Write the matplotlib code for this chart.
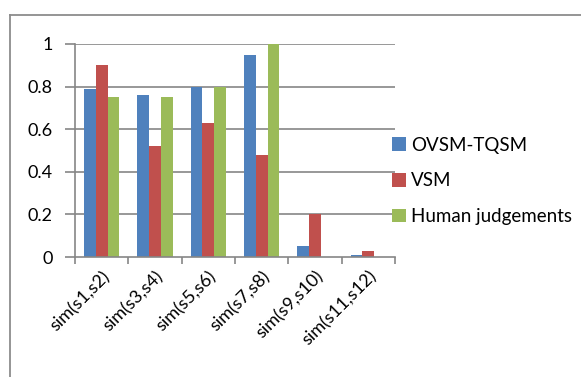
import matplotlib
matplotlib.use("Agg")
import matplotlib.pyplot as plt
import numpy as np
from matplotlib.lines import Line2D

categories = ["sim(s1,s2)", "sim(s3,s4)", "sim(s5,s6)", "sim(s7,s8)", "sim(s9,s10)", "sim(s11,s12)"]
ovsm_tqsm = [0.79, 0.76, 0.80, 0.95, 0.05, 0.01]
vsm = [0.90, 0.52, 0.63, 0.48, 0.20, 0.03]
human = [0.75, 0.75, 0.80, 1.00, 0.0, 0.0]
series_names = ["OVSM-TQSM", "VSM", "Human judgements"]
colors = ["#4F81BD", "#C0504D", "#9BBB59"]
yticks = [0, 0.2, 0.4, 0.6, 0.8, 1]
ytick_labels = ["0", "0.2", "0.4", "0.6", "0.8", "1"]

plt.rcParams["font.family"] = ["Lato", "DejaVu Sans"]

W, H = 581, 377
fig = plt.figure(figsize=(W / 100, H / 100), dpi=100)
fig.patch.set_facecolor("white")

# plot area in pixels: x 75..395, y 44..257
left, right, top, bottom = 75, 395, 44, 257
ax = fig.add_axes([left / W, 1 - bottom / H, (right - left) / W, (bottom - top) / H])

x = np.arange(len(categories))
bw = 0.22
for i, (vals, name, c) in enumerate(zip([ovsm_tqsm, vsm, human], series_names, colors)):
    ax.bar(x + (i - 1) * bw, vals, width=bw, color=c, label=name, zorder=3)

ax.set_xlim(-0.5, len(categories) - 0.5)
ax.set_ylim(0, 1)
grid_c = "#868686"
ax.set_yticks(yticks)
ax.set_yticklabels(ytick_labels, fontsize=13, color="black")
for y in yticks[1:]:
    ax.axhline(y, color=grid_c, lw=1.2, zorder=1)

# category boundary ticks
ax.set_xticks(np.arange(-0.5, len(categories), 1.0), minor=False)
ax.set_xticklabels([])
ax.set_xticks(x, minor=True)
ax.set_xticklabels(categories, minor=True, rotation=45, ha="right",
                   rotation_mode="anchor", fontsize=13)
ax.tick_params(axis="x", which="minor", length=0, pad=8)
ax.tick_params(axis="x", which="major", length=5, width=1.2, color=grid_c, direction="out")
ax.tick_params(axis="y", length=7, width=1.2, color=grid_c, direction="out", pad=9)

for s in ["top", "right"]:
    ax.spines[s].set_visible(False)
for s in ["left", "bottom"]:
    ax.spines[s].set_color(grid_c)
    ax.spines[s].set_linewidth(1.2)
    ax.spines[s].set_zorder(4)

leg = fig.legend(loc="upper left", bbox_to_anchor=(384 / W, 1 - 129 / H),
                 frameon=False, fontsize=13.5, handlelength=0.75, handleheight=0.75,
                 handletextpad=0.3, labelspacing=1.0, borderaxespad=0)

# outer chart border
bc = "#8C8C8C"
fig.add_artist(Line2D([10 / W, 10 / W], [0, 1 - 15 / H], color=bc, lw=1.3, transform=fig.transFigure))
fig.add_artist(Line2D([10 / W, 1], [1 - 15 / H, 1 - 15 / H], color=bc, lw=1.3, transform=fig.transFigure))

fig.savefig("out.png", dpi=100)
